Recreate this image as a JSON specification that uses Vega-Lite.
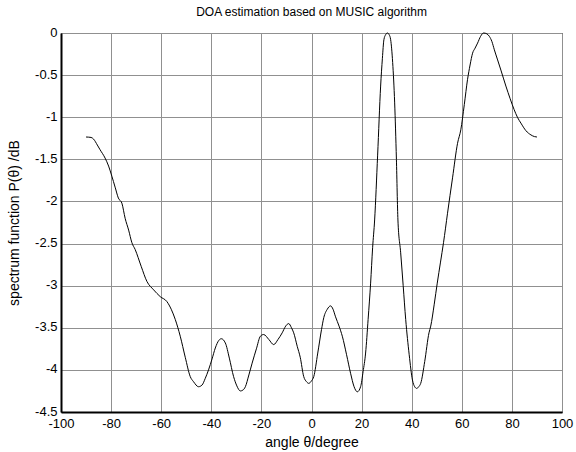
{
  "$schema": "https://vega.github.io/schema/vega-lite/v6.json",
  "width": 501,
  "height": 379,
  "autosize": "none",
  "padding": {"left": 61, "top": 33, "right": 14, "bottom": 40},
  "background": "white",
  "title": {"text": "DOA estimation based on MUSIC algorithm", "font": "Liberation Sans", "fontSize": 12, "fontWeight": "normal", "color": "black", "offset": 7},
  "config": {
    "view": {"stroke": "black", "strokeWidth": 1},
    "axis": {
      "labelFont": "Liberation Sans", "labelFontSize": 13, "labelColor": "black",
      "titleFont": "Liberation Sans", "titleFontSize": 14, "titleFontWeight": "normal", "titleColor": "black",
      "domainColor": "black", "domainWidth": 2,
      "gridColor": "#909090", "gridWidth": 1, "gridOpacity": 1,
      "tickSize": 0
    }
  },
  "data": {"values": [
    {"angle": -90, "p": -1.235}, {"angle": -88, "p": -1.24}, {"angle": -87, "p": -1.26}, {"angle": -85.5, "p": -1.33},
    {"angle": -84.4, "p": -1.386}, {"angle": -82.4, "p": -1.485}, {"angle": -81, "p": -1.58}, {"angle": -79.7, "p": -1.7},
    {"angle": -78.4, "p": -1.83}, {"angle": -77.1, "p": -1.96}, {"angle": -75.7, "p": -2.02}, {"angle": -74.4, "p": -2.2},
    {"angle": -73, "p": -2.34}, {"angle": -71.7, "p": -2.49}, {"angle": -70.4, "p": -2.57}, {"angle": -68, "p": -2.77},
    {"angle": -65.7, "p": -2.95}, {"angle": -63, "p": -3.05}, {"angle": -60.4, "p": -3.13}, {"angle": -57.7, "p": -3.19},
    {"angle": -56, "p": -3.28}, {"angle": -54.4, "p": -3.4}, {"angle": -52.4, "p": -3.6}, {"angle": -50.4, "p": -3.85},
    {"angle": -48.4, "p": -4.08}, {"angle": -47.1, "p": -4.14}, {"angle": -45.1, "p": -4.2}, {"angle": -43.7, "p": -4.18},
    {"angle": -42.4, "p": -4.1}, {"angle": -41.1, "p": -4.0}, {"angle": -39.7, "p": -3.87}, {"angle": -38.4, "p": -3.74},
    {"angle": -37, "p": -3.65}, {"angle": -36, "p": -3.63}, {"angle": -34.4, "p": -3.68}, {"angle": -32.8, "p": -3.86},
    {"angle": -31.1, "p": -4.08}, {"angle": -29.8, "p": -4.19}, {"angle": -28.4, "p": -4.25}, {"angle": -27.4, "p": -4.24},
    {"angle": -26.4, "p": -4.2}, {"angle": -25, "p": -4.06}, {"angle": -23.7, "p": -3.92}, {"angle": -22, "p": -3.75},
    {"angle": -20.4, "p": -3.6}, {"angle": -19.1, "p": -3.58}, {"angle": -17, "p": -3.64}, {"angle": -15.1, "p": -3.7},
    {"angle": -13.4, "p": -3.64}, {"angle": -11.7, "p": -3.56}, {"angle": -10.3, "p": -3.48}, {"angle": -9.1, "p": -3.45},
    {"angle": -8, "p": -3.5}, {"angle": -7.1, "p": -3.56}, {"angle": -5.7, "p": -3.72}, {"angle": -4.5, "p": -3.85},
    {"angle": -3.1, "p": -4.08}, {"angle": -2, "p": -4.14}, {"angle": -1.1, "p": -4.16}, {"angle": 0, "p": -4.13},
    {"angle": 0.9, "p": -4.08}, {"angle": 2.5, "p": -3.8}, {"angle": 4, "p": -3.52}, {"angle": 4.9, "p": -3.38},
    {"angle": 6.3, "p": -3.28}, {"angle": 7.6, "p": -3.24}, {"angle": 8.6, "p": -3.28}, {"angle": 9.6, "p": -3.37},
    {"angle": 11, "p": -3.48}, {"angle": 12.3, "p": -3.6}, {"angle": 14, "p": -3.82}, {"angle": 15.6, "p": -4.04},
    {"angle": 17, "p": -4.2}, {"angle": 18.3, "p": -4.26}, {"angle": 19.6, "p": -4.2}, {"angle": 20.6, "p": -4.02},
    {"angle": 21.6, "p": -3.8}, {"angle": 22.6, "p": -3.4}, {"angle": 23.6, "p": -2.97}, {"angle": 24.4, "p": -2.55},
    {"angle": 25.2, "p": -2.22}, {"angle": 26.4, "p": -1.45}, {"angle": 27.6, "p": -0.63}, {"angle": 28.3, "p": -0.3},
    {"angle": 28.9, "p": -0.08}, {"angle": 29.6, "p": -0.02}, {"angle": 30.3, "p": 0}, {"angle": 31, "p": -0.02},
    {"angle": 31.6, "p": -0.08}, {"angle": 32.4, "p": -0.35}, {"angle": 33.2, "p": -0.83}, {"angle": 33.9, "p": -1.5},
    {"angle": 34.5, "p": -2.22}, {"angle": 35.6, "p": -2.61}, {"angle": 36.6, "p": -3.0}, {"angle": 37.6, "p": -3.4},
    {"angle": 39, "p": -3.82}, {"angle": 40.3, "p": -4.12}, {"angle": 41.2, "p": -4.2}, {"angle": 42, "p": -4.22},
    {"angle": 42.8, "p": -4.2}, {"angle": 43.6, "p": -4.16}, {"angle": 45.2, "p": -3.9}, {"angle": 46.9, "p": -3.56},
    {"angle": 47.6, "p": -3.48}, {"angle": 49, "p": -3.22}, {"angle": 50.2, "p": -2.97}, {"angle": 51.5, "p": -2.72},
    {"angle": 52.7, "p": -2.49}, {"angle": 54.3, "p": -2.14}, {"angle": 56.3, "p": -1.72}, {"angle": 58.3, "p": -1.31},
    {"angle": 59.6, "p": -1.15}, {"angle": 61, "p": -0.85}, {"angle": 62.3, "p": -0.55}, {"angle": 63.3, "p": -0.38},
    {"angle": 64.3, "p": -0.24}, {"angle": 65.3, "p": -0.18}, {"angle": 66.3, "p": -0.12}, {"angle": 67.5, "p": -0.04},
    {"angle": 68.7, "p": 0}, {"angle": 70, "p": -0.01}, {"angle": 71, "p": -0.04}, {"angle": 72, "p": -0.1},
    {"angle": 73, "p": -0.2}, {"angle": 74.3, "p": -0.32}, {"angle": 75.6, "p": -0.44}, {"angle": 77.6, "p": -0.63},
    {"angle": 79.3, "p": -0.78}, {"angle": 80.9, "p": -0.91}, {"angle": 82.2, "p": -1.0}, {"angle": 83.6, "p": -1.07},
    {"angle": 85.6, "p": -1.16}, {"angle": 87.6, "p": -1.21}, {"angle": 89, "p": -1.23}, {"angle": 90, "p": -1.235}
  ]},
  "mark": {"type": "line", "color": "black", "strokeWidth": 1, "interpolate": "monotone"},
  "encoding": {
    "x": {
      "field": "angle", "type": "quantitative",
      "scale": {"domain": [-100, 100], "nice": false, "zero": false},
      "axis": {"title": "angle θ/degree", "values": [-100, -80, -60, -40, -20, 0, 20, 40, 60, 80, 100],
        "labelExpr": "toString(datum.value)", "labelPadding": 5, "titlePadding": 5, "labelFlush": false}
    },
    "y": {
      "field": "p", "type": "quantitative",
      "scale": {"domain": [-4.5, 0], "nice": false, "zero": false},
      "axis": {"title": "spectrum function P(θ) /dB", "values": [0, -0.5, -1, -1.5, -2, -2.5, -3, -3.5, -4, -4.5],
        "labelExpr": "toString(datum.value)", "labelPadding": 4, "titlePadding": 13, "labelFlush": false, "labelOffset": -1}
    }
  }
}
